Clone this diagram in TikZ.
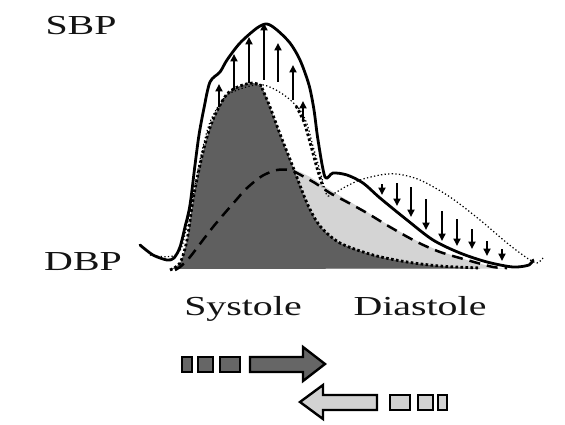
\documentclass[tikz,border=0pt]{standalone}
\usepackage{fontspec}
\setmainfont{Liberation Serif}
\usetikzlibrary{arrows.meta}
\definecolor{fwdgray}{HTML}{5F5F5F}
\definecolor{refgray}{HTML}{D4D4D4}
\definecolor{arrdark}{HTML}{666666}
\definecolor{arrlight}{HTML}{D2D2D2}
\begin{document}
\begin{tikzpicture}[x=1pt,y=-1pt,
  lbl/.style={anchor=base, inner sep=0pt, font=\fontsize{27.5}{30}\selectfont, xscale=1.45, text=black!92},
  solidwave/.style={line width=2.8pt, line cap=round, line join=round},
  thinwave/.style={line width=1.2pt, dash pattern=on 1.3pt off 2.3pt},
  fwdedge/.style={line width=2.8pt, dash pattern=on 2.6pt off 2.4pt},
  reflwave/.style={line width=2.5pt, dash pattern=on 11pt off 7pt},
  uparr/.style={line width=2.1pt, -{Triangle[length=7.5pt,width=7pt]}},
  block/.style={draw=black, line width=2.4pt, line join=miter}
]
\useasboundingbox (0,0) rectangle (565,425);
\fill[white] (0,0) rectangle (565,425);

% reflected wave area (light grey)
\fill[refgray] plot[smooth] coordinates {(175,269) (190,257) (213,227) (237,199) (262,176) (277,169) (292,169) (310,177) (330,190) (347,200) (367,212) (390,226) (417,241) (440,251) (467,260) (493,267) (505,268.5)} -- (175,268.5) -- cycle;

% forward wave area (dark grey)
\fill[fwdgray] plot[smooth] coordinates {(170,269) (180,263) (187,240) (193,200) (200,165) (207,137) (215,115) (227,94) (240,86) (253,83) (262,88) (270,107) (280,134) (293,167) (307,203) (320,226) (340,243) (373,255) (407,262) (440,266) (480,268.5)} -- cycle;

% reflected wave
\draw[reflwave] plot[smooth] coordinates {(175,270) (180,267) (190,257) (213,227) (237,199) (247,188) (262,176) (277,170) (290,170) (297,173) (315,183) (330,193) (347,202) (367,213) (390,227) (417,242) (440,252) (467,260) (493,267) (507,268)};

% forward wave outline
\draw[fwdedge] plot[smooth] coordinates {(170,270) (180,263) (187,240) (193,200) (200,165) (207,137) (215,115) (227,94) (240,86) (253,83) (262,86)};
\draw[fwdedge] plot[smooth] coordinates {(262,88) (270,107) (280,134) (293,167) (307,203) (320,226) (340,243) (373,255) (407,262) (440,266) (480,268)};

% normal pressure wave (thin dotted)
\draw[thinwave] plot[smooth] coordinates {(150,255) (160,256.5) (173,256) (181,249) (186,230) (192,200) (200,160) (210,122) (225,97) (240,89) (255,85) (264,85) (276,90) (288,98) (300,110) (307,124) (313,146) (320,171) (325,190) (328,196) (335,193) (345,187) (360,180) (380,175) (397,174) (420,180) (450,197) (480,220) (507,243) (527,258) (537,263) (543,258)};
\draw[fwdedge] plot[smooth] coordinates {(296,106) (304,122) (311,146) (317,168) (323,187)};

% augmented pressure wave (solid)
\draw[solidwave] plot[smooth] coordinates {(140,245) (153,255) (167,260) (174,258) (180,247) (185,227) (190,205) (195,165) (199,135) (204,108) (210,82) (220,72) (227,60) (240,43) (257,28) (267,24) (277,30) (290,43) (300,60) (309,85) (314,110) (318,140) (325,177) (333,173) (347,175) (363,183) (380,198) (407,220) (433,240) (460,253) (487,262) (513,267) (529,265) (533,260)};

% systolic rise
\foreach \x/\ya/\yb in {219/107/84, 234/90/54, 249/83/37, 264/80/23, 278/82/43, 293/100/65, 303/121/101}
  \draw[uparr] (\x,\ya) -- (\x,\yb);
% diastolic fall
\foreach \x/\ya/\yb in {382/184/195, 397/183/206, 411/187/217, 426/199/230, 442/211/241, 457/219/246, 472/229/249, 487/241/256, 502/249/261}
  \draw[uparr] (\x,\ya) -- (\x,\yb);

% labels
\node[lbl] (sbp) at (81,35) {SBP};
\node[lbl] (dbp) at (83,270) {DBP};
\node[lbl] (sys) at (243,315) {Systole};
\node[lbl] (dia) at (420,315) {Diastole};

% forward travelling wave
\draw[block, fill=arrdark] (182,357) rectangle (192,372);
\draw[block, fill=arrdark] (198,357) rectangle (213,372);
\draw[block, fill=arrdark] (220,357) rectangle (240,372);
\draw[block, fill=arrdark] (250,357) -- (303,357) -- (303,347) -- (325,364) -- (303,381) -- (303,372) -- (250,372) -- cycle;

% backward travelling wave
\draw[block, fill=arrlight] (300,402) -- (323,385) -- (323,395) -- (377,395) -- (377,410) -- (323,410) -- (323,419) -- cycle;
\draw[block, fill=arrlight] (390,395) rectangle (410,410);
\draw[block, fill=arrlight] (418,395) rectangle (433,410);
\draw[block, fill=arrlight] (438,395) rectangle (447,410);
\end{tikzpicture}
\end{document}
